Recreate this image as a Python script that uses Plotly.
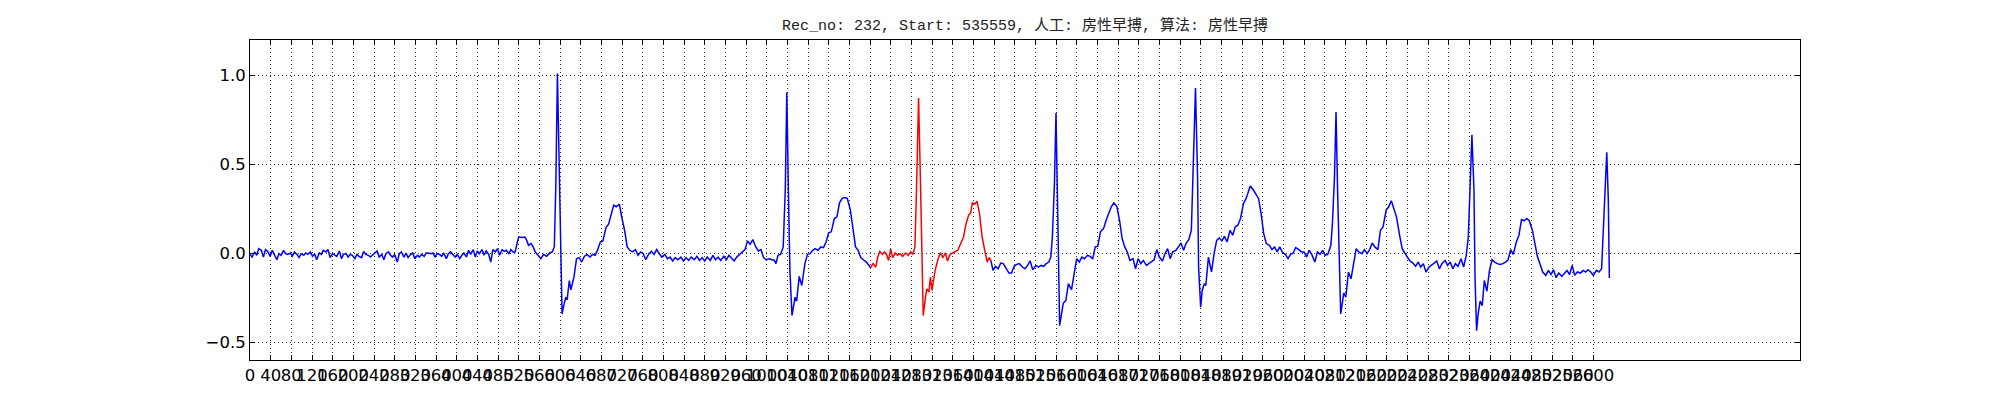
import plotly.graph_objects as go

# ---------------- data ----------------
title_text = "Rec_no: 232, Start: 535559, 人工: 房性早搏, 算法: 房性早搏"

sample_idx = [
    0, 4, 9, 13, 17, 22, 26, 30, 35, 39, 43, 47, 52, 56, 60, 65, 69, 73, 78, 82,
    86, 91, 95, 99, 104, 108, 112, 117, 121, 125, 129, 134, 138, 142, 147, 151, 155, 160, 164, 168,
    173, 177, 181, 186, 190, 194, 198, 203, 207, 211, 216, 220, 224, 229, 233, 237, 242, 246, 250, 255,
    259, 263, 268, 272, 276, 280, 285, 289, 293, 298, 302, 306, 311, 315, 319, 324, 328, 332, 337, 341,
    345, 350, 354, 358, 362, 367, 371, 375, 380, 384, 388, 393, 397, 401, 406, 410, 414, 419, 423, 427,
    432, 436, 440, 444, 449, 453, 457, 462, 466, 470, 475, 479, 483, 488, 492, 496, 501, 505, 509, 513,
    516, 520, 526, 532, 535, 539, 544, 548, 552, 557, 563, 568, 574, 580, 585, 589, 592, 595, 599, 602,
    604, 608, 611, 614, 618, 621, 627, 632, 637, 642, 647, 652, 658, 663, 668, 673, 678, 683, 689, 694,
    699, 704, 709, 715, 720, 725, 730, 735, 740, 746, 751, 756, 761, 766, 772, 777, 782, 787, 792, 797,
    803, 808, 813, 818, 823, 828, 834, 839, 844, 849, 854, 860, 865, 870, 875, 880, 885, 891, 896, 901,
    906, 911, 917, 922, 927, 932, 937, 942, 948, 953, 958, 963, 968, 973, 979, 984, 989, 994, 999, 1005,
    1010, 1015, 1018, 1022, 1027, 1032, 1036, 1039, 1042, 1045, 1049, 1052, 1055, 1058, 1063, 1068, 1074, 1079, 1084, 1089,
    1094, 1099, 1105, 1110, 1115, 1120, 1125, 1131, 1136, 1141, 1146, 1151, 1156, 1162, 1167, 1172, 1177, 1182, 1187, 1193,
    1198, 1201, 1206, 1211, 1215, 1219, 1224, 1228, 1232, 1236, 1240, 1244, 1249, 1253, 1258, 1263, 1269, 1274, 1279, 1283,
    1287, 1290, 1294, 1298, 1301, 1303, 1307, 1310, 1314, 1317, 1320, 1326, 1331, 1336, 1341, 1346, 1350, 1355, 1360, 1365,
    1370, 1376, 1381, 1386, 1391, 1395, 1398, 1403, 1407, 1412, 1417, 1422, 1427, 1431, 1434, 1438, 1443, 1448, 1453, 1458,
    1464, 1469, 1474, 1479, 1484, 1489, 1495, 1500, 1505, 1510, 1515, 1521, 1526, 1531, 1536, 1541, 1546, 1550, 1553, 1557,
    1560, 1563, 1565, 1567, 1571, 1574, 1579, 1584, 1590, 1595, 1600, 1605, 1610, 1615, 1621, 1626, 1631, 1636, 1641, 1646,
    1652, 1657, 1662, 1667, 1672, 1678, 1683, 1688, 1693, 1698, 1703, 1709, 1714, 1719, 1724, 1729, 1735, 1740, 1745, 1750,
    1755, 1760, 1766, 1771, 1776, 1781, 1786, 1792, 1797, 1802, 1807, 1812, 1817, 1822, 1825, 1830, 1834, 1836, 1840, 1843,
    1847, 1850, 1855, 1861, 1866, 1871, 1876, 1881, 1886, 1891, 1897, 1902, 1907, 1912, 1917, 1923, 1928, 1933, 1936, 1942,
    1947, 1952, 1957, 1962, 1967, 1973, 1978, 1983, 1988, 1993, 1999, 2004, 2009, 2014, 2019, 2024, 2030, 2035, 2040, 2045,
    2050, 2055, 2061, 2066, 2071, 2076, 2081, 2086, 2092, 2095, 2099, 2102, 2105, 2108, 2111, 2114, 2117, 2121, 2126, 2131,
    2136, 2141, 2146, 2152, 2157, 2162, 2167, 2172, 2177, 2183, 2188, 2193, 2199, 2204, 2209, 2214, 2219, 2225, 2230, 2235,
    2240, 2245, 2251, 2256, 2261, 2266, 2271, 2276, 2282, 2287, 2292, 2297, 2302, 2307, 2313, 2318, 2323, 2328, 2333, 2338,
    2344, 2349, 2354, 2358, 2361, 2365, 2369, 2371, 2374, 2377, 2381, 2385, 2389, 2394, 2399, 2404, 2409, 2414, 2420, 2425,
    2430, 2435, 2440, 2445, 2451, 2456, 2461, 2466, 2471, 2476, 2482, 2487, 2492, 2497, 2502, 2508, 2513, 2518, 2523, 2528,
    2533, 2539, 2544, 2549, 2554, 2559, 2564, 2569, 2575, 2580, 2585, 2590, 2595, 2600, 2606, 2611, 2616, 2619, 2623, 2626,
    2629, 2631,
]

amplitude = [
    -0.006, -0.021, 0.008, -0.011, 0.026, 0.017, -0.021, 0.021, 0.008, -0.017, 0.017, -0.006, -0.036, -0.002, -0.011, 0.017, -0.002, -0.006, 0.002, -0.015,
    0.008, -0.006, -0.024, -0.002, -0.011, 0.002, -0.006, 0.008, -0.017, -0.002, -0.036, 0.002, -0.006, 0.017, 0.008, 0.021, -0.024, -0.002, -0.011, -0.017,
    0.013, -0.030, -0.006, -0.002, -0.021, -0.006, -0.011, -0.030, -0.006, -0.017, -0.024, 0.011, -0.006, -0.011, -0.021, -0.011, -0.002, 0.013, -0.021, -0.006,
    -0.036, -0.002, 0.008, -0.011, -0.021, -0.006, -0.049, -0.002, 0.008, -0.021, 0.002, -0.024, -0.006, 0.002, -0.030, -0.011, -0.021, -0.006, -0.017, 0.002,
    0.002, -0.002, 0.002, -0.021, -0.002, -0.006, -0.017, 0.002, -0.030, -0.002, 0.008, -0.006, -0.021, -0.006, -0.030, -0.011, 0.002, -0.021, 0.017, -0.006,
    0.021, -0.021, 0.013, -0.002, 0.021, -0.011, 0.013, -0.006, -0.049, 0.021, 0.008, 0.026, -0.011, 0.021, 0.011, 0.017, -0.002, 0.021, 0.008, 0.008,
    0.045, 0.092, 0.089, 0.092, 0.077, 0.045, 0.055, 0.036, 0.008, -0.011, -0.030, -0.006, -0.017, 0.002, 0.008, 0.036, 0.394, 1.011, 0.394, -0.077,
    -0.341, -0.284, -0.250, -0.256, -0.153, -0.205, -0.134, -0.030, -0.024, -0.049, -0.017, -0.006, -0.021, -0.006, -0.011, 0.021, 0.064, 0.070, 0.145, 0.164,
    0.220, 0.271, 0.262, 0.277, 0.196, 0.130, 0.036, 0.017, 0.008, 0.021, -0.011, 0.008, -0.002, -0.036, -0.002, 0.011, -0.006, 0.021, -0.002, -0.021,
    -0.006, -0.030, -0.021, -0.043, -0.024, -0.036, -0.021, -0.043, -0.024, -0.040, -0.021, -0.036, -0.017, -0.040, -0.024, -0.043, -0.021, -0.040, -0.011, -0.036,
    -0.021, -0.040, -0.017, -0.036, -0.011, -0.030, -0.043, -0.021, -0.006, 0.008, 0.021, 0.070, 0.051, 0.077, 0.036, 0.013, 0.021, -0.024, -0.036, -0.030,
    -0.036, -0.040, -0.058, -0.011, -0.006, 0.036, 0.356, 0.906, 0.356, -0.096, -0.350, -0.294, -0.247, -0.269, -0.130, -0.181, -0.058, -0.006, -0.002, 0.017,
    0.026, 0.017, 0.036, 0.032, 0.064, 0.115, 0.121, 0.196, 0.205, 0.284, 0.309, 0.314, 0.309, 0.243, 0.139, 0.036, 0.017, -0.024, -0.036, -0.049,
    -0.068, -0.081, -0.058, -0.077, -0.021, 0.011, -0.006, 0.008, -0.006, -0.040, 0.023, -0.024, 0.002, -0.011, -0.002, -0.017, 0.002, -0.011, 0.008, -0.006,
    0.036, 0.356, 0.874, 0.356, -0.096, -0.350, -0.256, -0.200, -0.218, -0.134, -0.209, -0.096, -0.040, 0.004, -0.024, 0.002, -0.043, -0.006, 0.002, 0.008,
    0.017, 0.058, 0.092, 0.168, 0.215, 0.228, 0.284, 0.277, 0.294, 0.224, 0.092, 0.017, -0.049, -0.024, -0.040, -0.096, -0.073, -0.087, -0.055, -0.058,
    -0.087, -0.111, -0.111, -0.073, -0.062, -0.058, -0.077, -0.087, -0.068, -0.043, -0.092, -0.068, -0.077, -0.068, -0.073, -0.058, -0.049, -0.021, 0.092, 0.394,
    0.789, 0.394, -0.058, -0.407, -0.341, -0.281, -0.266, -0.171, -0.205, -0.111, -0.030, -0.049, -0.021, -0.030, -0.011, -0.017, -0.030, 0.036, 0.040, 0.121,
    0.139, 0.186, 0.228, 0.262, 0.284, 0.262, 0.186, 0.083, 0.036, 0.008, -0.040, -0.030, -0.087, -0.030, -0.058, -0.040, -0.068, -0.058, -0.049, -0.036,
    0.021, -0.021, -0.043, -0.002, 0.026, -0.030, 0.008, 0.017, 0.036, 0.058, 0.017, 0.058, 0.077, 0.130, 0.431, 0.930, 0.431, -0.077, -0.303, -0.209,
    -0.171, -0.181, -0.021, -0.105, -0.002, 0.073, 0.087, 0.070, 0.096, 0.064, 0.130, 0.102, 0.149, 0.158, 0.196, 0.281, 0.309, 0.356, 0.379, 0.356,
    0.333, 0.309, 0.224, 0.111, 0.055, 0.045, 0.021, 0.036, 0.008, 0.036, 0.002, -0.006, -0.030, -0.006, 0.002, 0.032, 0.021, 0.008, 0.008, -0.021,
    0.017, -0.006, -0.049, 0.008, -0.006, 0.017, -0.011, -0.006, 0.045, 0.168, 0.431, 0.795, 0.356, -0.096, -0.341, -0.284, -0.224, -0.247, -0.105, -0.143,
    -0.058, 0.026, 0.008, -0.002, 0.021, -0.002, 0.021, 0.058, 0.036, 0.021, 0.130, 0.149, 0.243, 0.262, 0.296, 0.252, 0.205, 0.102, 0.026, 0.002,
    -0.024, -0.043, -0.055, -0.073, -0.049, -0.077, -0.058, -0.105, -0.077, -0.068, -0.055, -0.043, -0.087, -0.058, -0.040, -0.068, -0.049, -0.087, -0.058, -0.073,
    -0.030, -0.077, -0.011, 0.092, 0.356, 0.667, 0.356, -0.134, -0.435, -0.341, -0.269, -0.294, -0.153, -0.213, -0.096, -0.036, -0.049, -0.058, -0.062, -0.058,
    -0.049, -0.036, 0.021, -0.006, 0.064, 0.102, 0.190, 0.183, 0.196, 0.183, 0.130, 0.055, -0.021, -0.062, -0.105, -0.124, -0.096, -0.119, -0.092, -0.137,
    -0.111, -0.130, -0.115, -0.096, -0.119, -0.068, -0.124, -0.105, -0.111, -0.096, -0.105, -0.092, -0.105, -0.124, -0.096, -0.105, -0.087, 0.092, 0.394, 0.569,
    0.299, -0.139,
]

# samples annotated as the premature beat (drawn in red)
red_start_sample = 1201
red_end_sample = 1434

xtick_vals = list(range(0, 2640, 40))
ytick_vals = [-0.5, 0.0, 0.5, 1.0]
x_limits = [0, 3000]
y_limits = [-0.6, 1.2]

# ---------------- split into coloured segments ----------------
def segment(lo, hi):
    xs, ys = [], []
    for s, v in zip(sample_idx, amplitude):
        if lo <= s <= hi:
            xs.append(s)
            ys.append(v)
    return xs, ys

bx1, by1 = segment(-1, red_start_sample)
rx, ry = segment(red_start_sample, red_end_sample)
bx2, by2 = segment(red_end_sample, 10 ** 9)

fig = go.Figure()
for xs, ys, col in [(bx1, by1, "#0000ff"), (rx, ry, "#ff0000"), (bx2, by2, "#0000ff")]:
    fig.add_trace(go.Scatter(x=xs, y=ys, mode="lines",
                             line=dict(color=col, width=1.5),
                             showlegend=False, hoverinfo="skip"))

axis_common = dict(
    showline=True, linecolor="black", linewidth=1, mirror="allticks",
    ticks="inside", ticklen=5, tickwidth=1, tickcolor="black",
    showgrid=True, gridcolor="#333333", gridwidth=1, griddash="1px,3px",
    zeroline=False,
    tickfont=dict(family="DejaVu Sans", size=16.5, color="black"),
)

fig.update_xaxes(range=x_limits, tickmode="array", tickvals=xtick_vals,
                 ticktext=[str(v) for v in xtick_vals], tickangle=0,
                 **axis_common)
fig.update_yaxes(range=y_limits, tickmode="array", tickvals=ytick_vals,
                 tickformat=".1f", **axis_common)

fig.update_layout(
    width=2000, height=400, autosize=False,
    margin=dict(l=250, r=200, t=40, b=40),
    paper_bgcolor="white", plot_bgcolor="white",
    title=dict(text=title_text, x=0.5, xref="paper", xanchor="center",
               y=1 - 25 / 400, yref="container", yanchor="middle",
               font=dict(family="Liberation Mono, Noto Sans CJK SC", size=15, color="#222222")),
)

fig.write_html("out.html",
               config={"displayModeBar": False},
               post_script="document.body.style.margin='0';document.body.style.padding='0';")
